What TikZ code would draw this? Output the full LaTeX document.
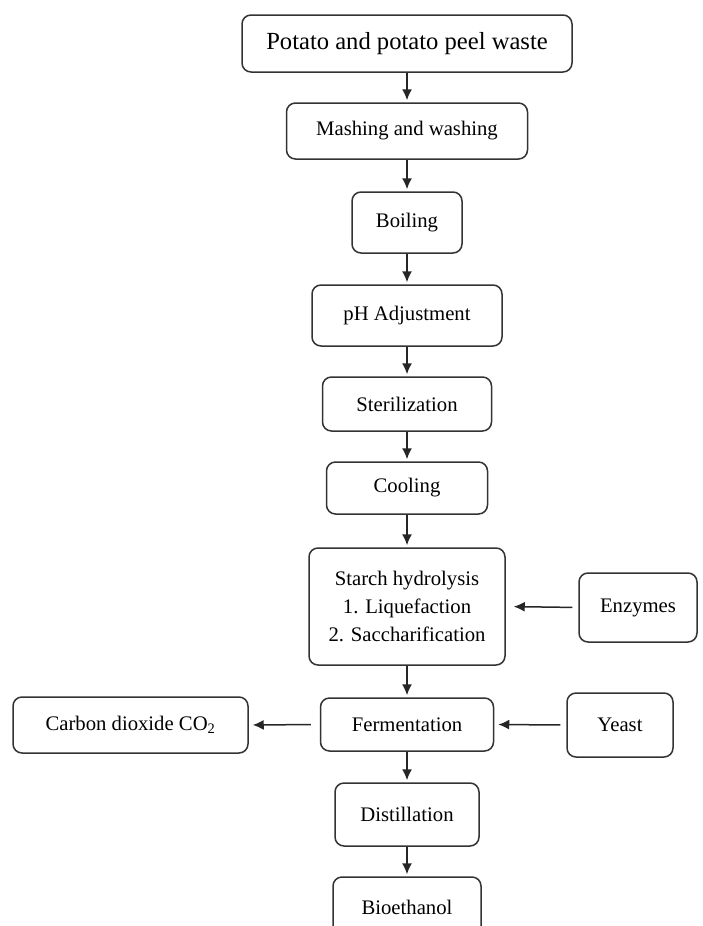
\documentclass[tikz,border=0pt]{standalone}
\usepackage{fontspec}
\setmainfont{Liberation Serif}
\usetikzlibrary{arrows.meta}
\begin{document}
\begin{tikzpicture}[x=1pt, y=-1pt,
		box/.style={draw=black!80, line width=1.5pt, rounded corners=9pt, align=center, inner sep=0pt, font=\fontsize{20.7}{28}\selectfont},
		arr/.style={-{Latex[length=11pt, width=10pt]}, line width=1.5pt, draw=black!85, shorten >=2pt}]
	\useasboundingbox (0, 0) rectangle (702, 926);
	\node[box, minimum width=330, minimum height=57, font=\fontsize{24.6}{30}\selectfont] (waste) at (407, 43.5) {Potato and potato peel waste};
	\node[box, minimum width=241, minimum height=56] (mash) at (407, 131) {Mashing and washing};
	\node[box, minimum width=110, minimum height=61] (boil) at (407, 222.5) {Boiling};
	\node[box, minimum width=190, minimum height=61] (ph) at (407, 315.5) {pH Adjustment};
	\node[box, minimum width=169, minimum height=54] (steril) at (407, 404) {Sterilization};
	\node[box, minimum width=161, minimum height=52] (cool) at (407, 488) {Cooling};
	\node[box, minimum width=196, minimum height=117] (starch) at (407, 606.5) {Starch hydrolysis\\1. Liquefaction\\2. Saccharification};
	\node[box, minimum width=118, minimum height=69] (enz) at (638, 607.5) {Enzymes};
	\node[box, minimum width=173, minimum height=53] (ferm) at (407, 724.5) {Fermentation};
	\node[box, minimum width=235, minimum height=56] (co2) at (130.5, 725) {Carbon dioxide CO\textsubscript{2}};
	\node[box, minimum width=106, minimum height=64] (yeast) at (620, 725) {Yeast};
	\node[box, minimum width=144, minimum height=63] (dist) at (407, 814.5) {Distillation};
	\node[box, minimum width=148, minimum height=60] (bio) at (407, 907) {Bioethanol};

	\draw[arr] (waste.south) -- (mash.north);
	\draw[arr] (mash.south) -- (boil.north);
	\draw[arr] (boil.south) -- (ph.north);
	\draw[arr] (ph.south) -- (steril.north);
	\draw[arr] (steril.south) -- (cool.north);
	\draw[arr] (cool.south) -- (starch.north);
	\draw[arr] (starch.south) -- (ferm.north);
	\draw[arr] (ferm.south) -- (dist.north);
	\draw[arr] (dist.south) -- (bio.north);
	\draw[arr, shorten <=6pt, shorten >=8pt] (enz.west) -- (starch.east);
	\draw[arr, shorten <=6pt, shorten >=4pt] (yeast.west) -- (ferm.east);
	\draw[arr, shorten <=9pt, shorten >=4pt] (ferm.west) -- (co2.east);
\end{tikzpicture}
\end{document}
